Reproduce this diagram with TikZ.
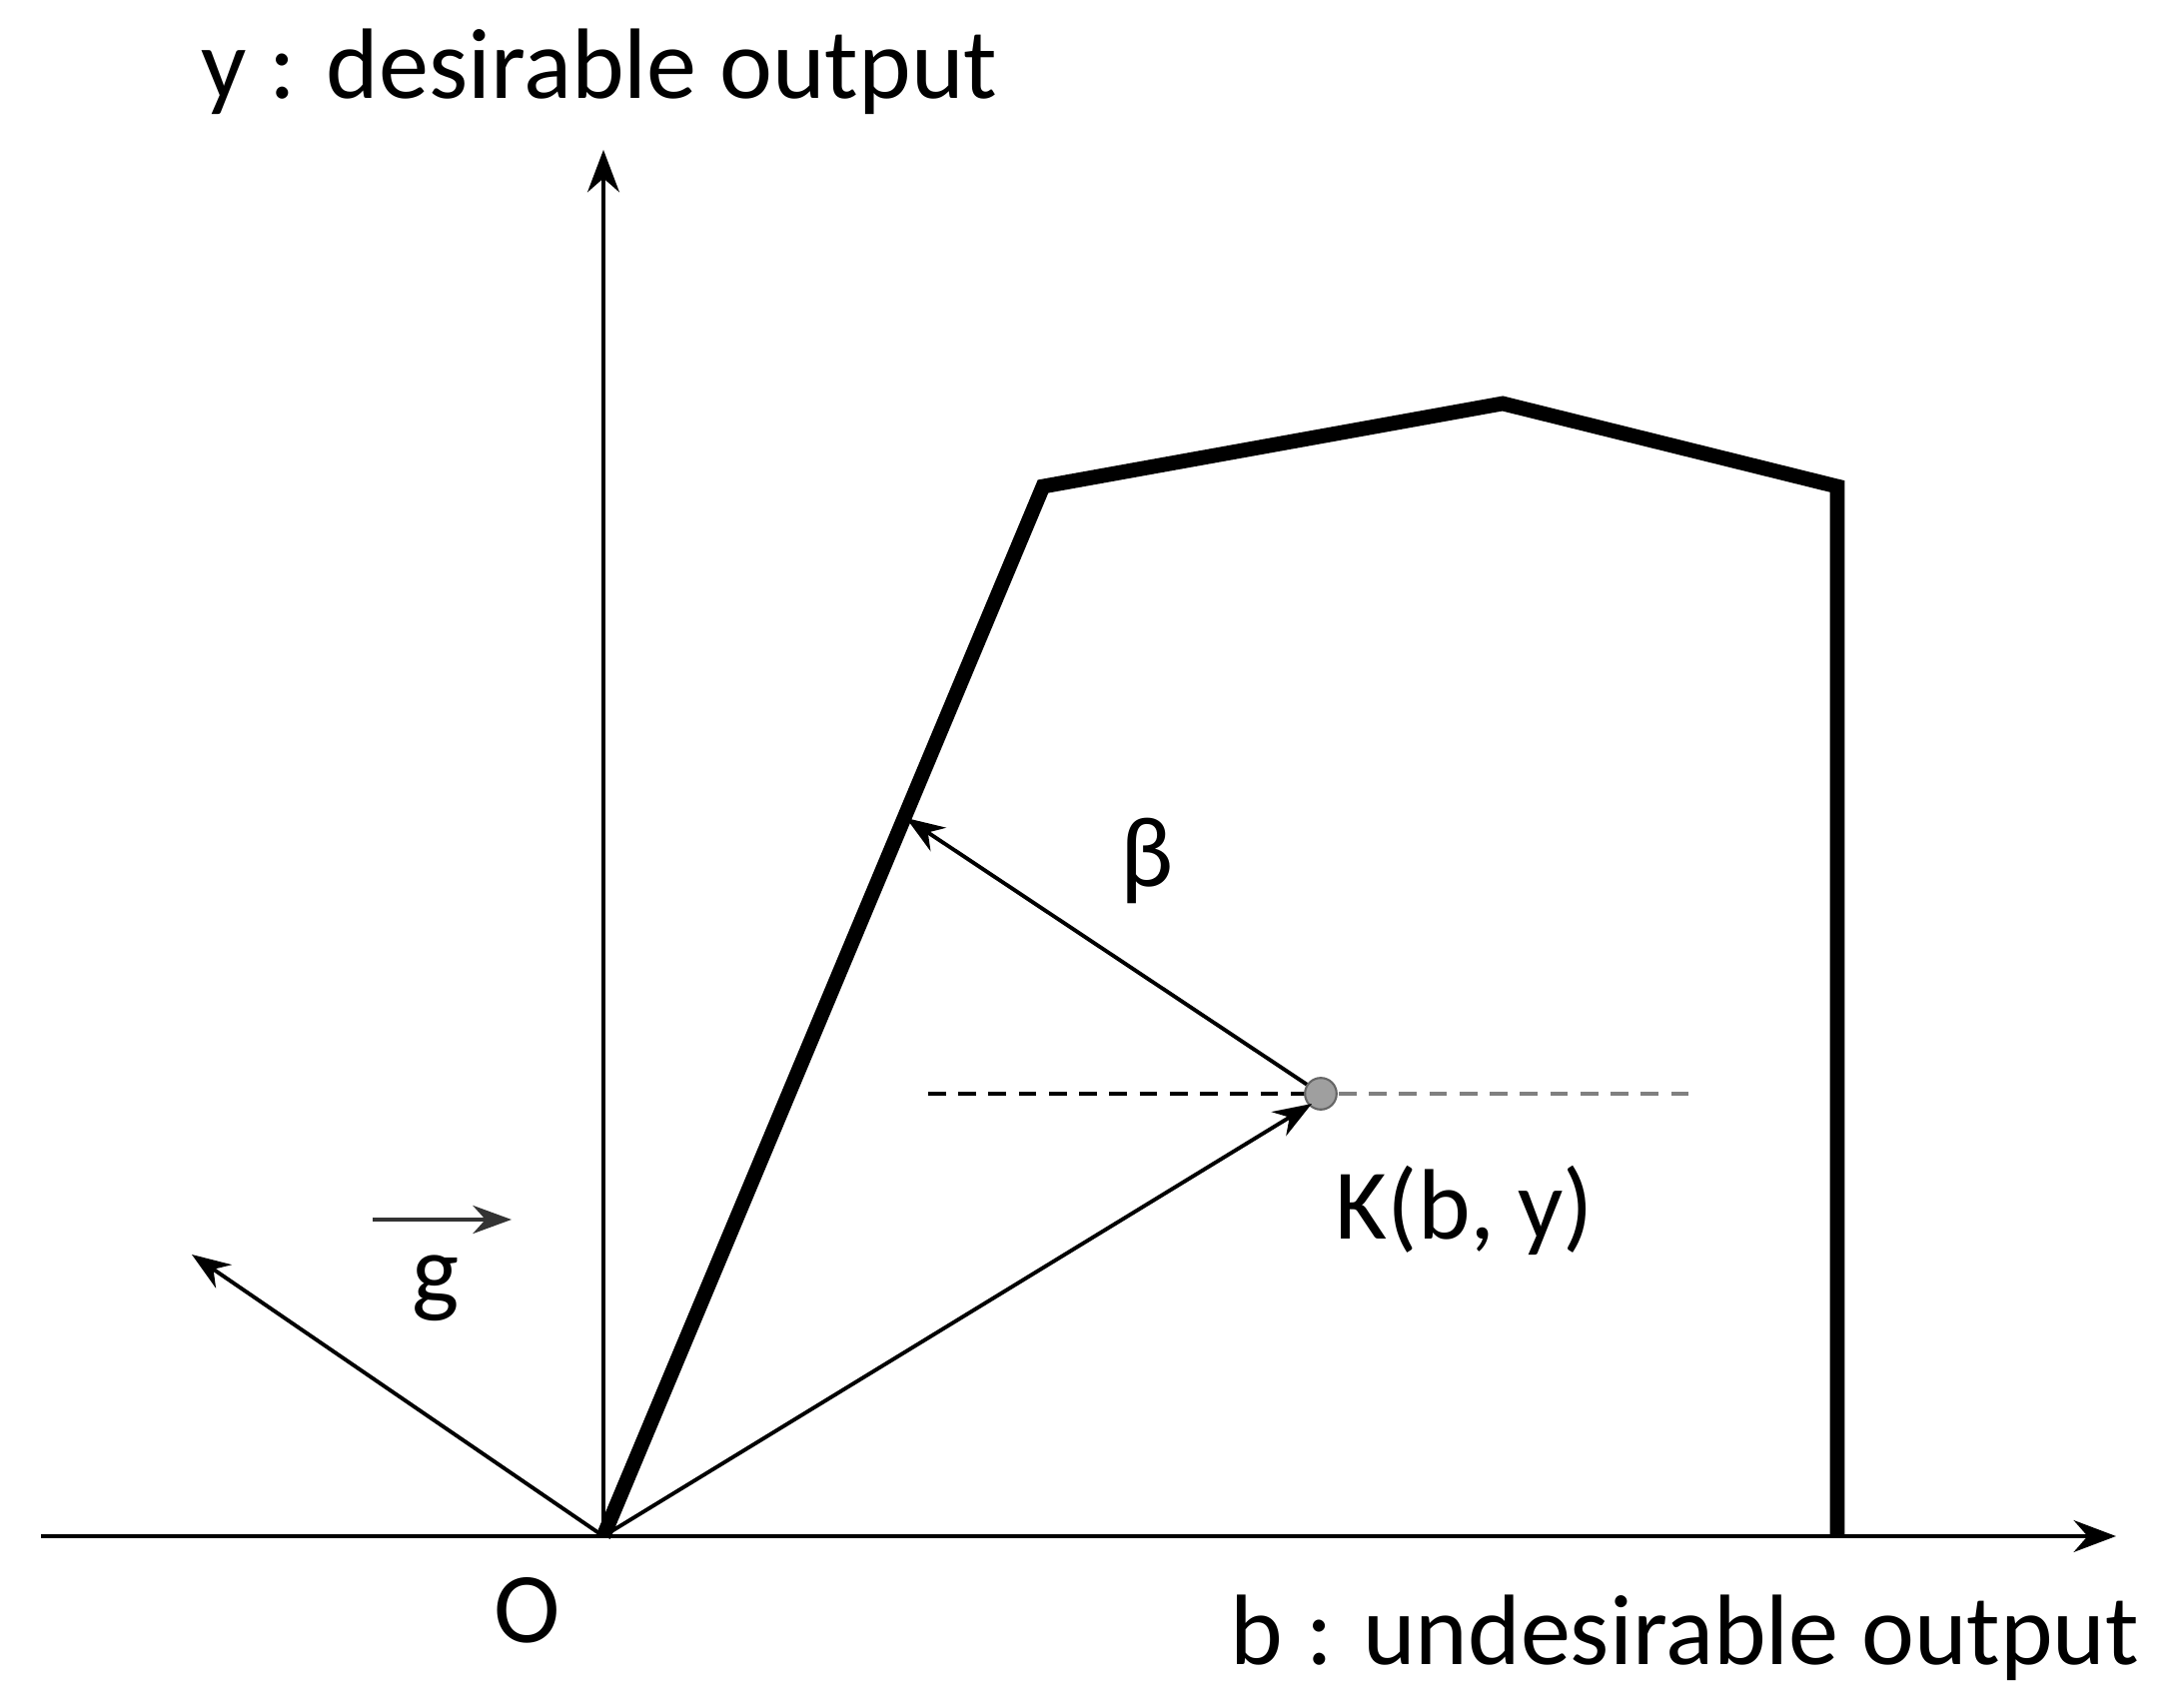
\documentclass[tikz,border=0pt]{standalone}
\usepackage{fontspec}
\setmainfont{Carlito}
\usepackage{tikz}
\usetikzlibrary{arrows.meta}
\usetikzlibrary{calc}

\begin{document}
\begin{tikzpicture}[x=0.01cm, y=-0.01cm, every node/.style={font=\fontsize{28.5}{34}\selectfont, inner sep=0pt},
  axis/.style={line width=1.4pt, -{Stealth[length=12pt, width=9pt]}},
  vec/.style={line width=1.1pt, -{Stealth[length=11pt, width=8pt]}},
  frontier/.style={line width=4.2pt, line join=miter}]
  \useasboundingbox (0,0) rectangle (2168,1710);
  % axes
  \coordinate (O) at (604,1538);
  \coordinate (xend) at (2118,1538);
  \coordinate (xstart) at (41,1538);
  \coordinate (yend) at (604,150);
  \draw[axis] (xstart) -- (xend);
  \draw[axis] (O) -- (yend);
  \node (ylab) at (600,72) {y : desirable output};
  \node[anchor=east] (blab) at (2142,1640) {b : undesirable output};
  \node (olab) at (528,1612) {O};
  % frontier
  \coordinate (p1) at (1044,487);
  \coordinate (p2) at (1504,404);
  \coordinate (p3) at (1839,487);
  \coordinate (p4) at (1839,1538);
  \draw[frontier] (O) -- (p1) -- (p2) -- (p3) -- (p4);
  % point K
  \coordinate (dl) at (929,1095);
  \coordinate (dr) at (1701,1095);
  \draw[line width=1.4pt, dash pattern=on 5pt off 3.6pt] (dl) -- (1322,1095);
  \draw[line width=1.4pt, gray, dash pattern=on 5pt off 3.6pt] (1340,1095) -- (dr);
  \node[circle, fill=gray!75, draw=black!60, line width=0.6pt, minimum size=9pt] (K) at (1322,1095) {};
  \node (klab) at (1466,1212) {K(b, y)};
  % direction vectors
  \coordinate (hit) at (907,819);
  \coordinate (gtip) at (192,1256);
  \draw[vec] (O) -- ($(K)+(-9,10)$);
  \draw[vec] (K) -- (hit);
  \draw[vec] (O) -- (gtip);
  \node (beta) at (1148,862) {β};
  \coordinate (gl) at (373,1221);
  \coordinate (gr) at (512,1221);
  \draw[vec, black!80] (gl) -- (gr);
  \node (glab) at (436,1290) {g};
\end{tikzpicture}
\end{document}
